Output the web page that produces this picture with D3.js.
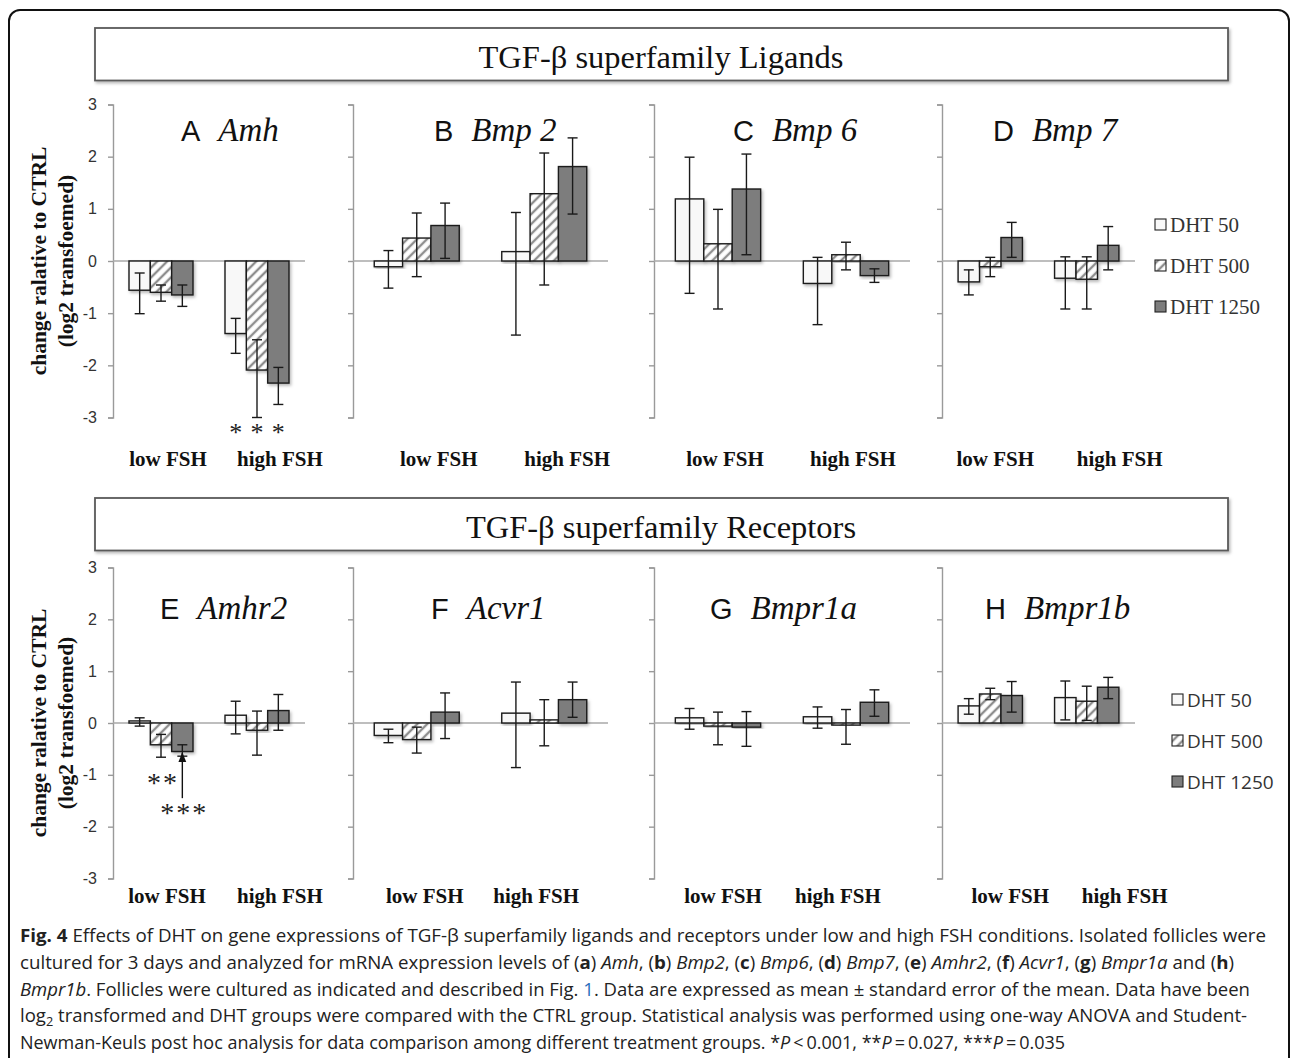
<!DOCTYPE html>
<html lang="en">
<head>
<meta charset="UTF-8"/>
<title>Fig. 4 - DHT effects on TGF-beta superfamily genes</title>
<script src="https://cdn.jsdelivr.net/npm/d3@7"></script>
<style>
    html, body { margin: 0; background: #fff; }
    svg { display: block; }
</style>
</head>
<body>
<div id="chart"></div>
<script>
    // ---- data ----
    const panelLetters = ["A", "B", "C", "D", "E", "F", "G", "H"];
    const geneNames = ["Amh", "Bmp 2", "Bmp 6", "Bmp 7", "Amhr2", "Acvr1", "Bmpr1a", "Bmpr1b"];
    const groups = ["low FSH", "high FSH"];
    const series = ["DHT 50", "DHT 500", "DHT 1250"];
    const yTicks = [3, 2, 1, 0, -1, -2, -3];
    const rowTitles = ["TGF-\u03b2 superfamily Ligands", "TGF-\u03b2 superfamily Receptors"];

    // means per panel: [low FSH [50, 500, 1250], high FSH [50, 500, 1250]]
    const means = [
        [[-0.56, -0.60, -0.65], [-1.39, -2.09, -2.34]],
        [[-0.11, 0.44, 0.68], [0.18, 1.29, 1.81]],
        [[1.19, 0.33, 1.38], [-0.43, 0.12, -0.28]],
        [[-0.40, -0.11, 0.45], [-0.33, -0.35, 0.30]],
        [[0.04, -0.42, -0.55], [0.15, -0.14, 0.24]],
        [[-0.24, -0.32, 0.21], [0.19, 0.06, 0.45]],
        [[0.10, -0.06, -0.08], [0.12, -0.04, 0.40]],
        [[0.33, 0.56, 0.53], [0.49, 0.42, 0.69]]
    ];
    const errPlus = [
        [[0.33, 0.14, 0.19], [0.29, 0.58, 0.30]],
        [[0.31, 0.48, 0.43], [0.75, 0.78, 0.55]],
        [[0.80, 0.66, 0.67], [0.50, 0.24, 0.13]],
        [[0.23, 0.18, 0.29], [0.41, 0.43, 0.36]],
        [[0.06, 0.20, 0.13], [0.27, 0.37, 0.31]],
        [[0.12, 0.24, 0.37], [0.60, 0.39, 0.34]],
        [[0.18, 0.27, 0.30], [0.19, 0.30, 0.24]],
        [[0.14, 0.11, 0.27], [0.32, 0.29, 0.19]]
    ];
    const errMinus = [
        [[0.45, 0.17, 0.22], [0.38, 0.91, 0.41]],
        [[0.41, 0.74, 0.63], [1.60, 1.75, 0.91]],
        [[1.81, 1.25, 1.26], [0.79, 0.29, 0.13]],
        [[0.25, 0.19, 0.38], [0.59, 0.57, 0.47]],
        [[0.10, 0.24, 0.09], [0.36, 0.48, 0.38]],
        [[0.14, 0.26, 0.51], [1.05, 0.50, 0.34]],
        [[0.22, 0.36, 0.37], [0.22, 0.37, 0.27]],
        [[0.16, 0.11, 0.32], [0.43, 0.37, 0.22]]
    ];

    // ---- layout ----
    const width = 1290, height = 1058;
    const cols = [[113, 305], [353, 608], [654, 910], [942, 1135]];
    const rows = [
        {top: 104.5, bottom: 417.5, title: 141, cat: 466, box: 28},
        {top: 567.5, bottom: 878.5, title: 619, cat: 903, box: 498}
    ];
    const titleShift = [68, 81, 79, 51, 47, 78, 56, 43];
    const catShift = [[7, 23], [22, 23], [7, 7], [5, 33], [6, 23], [8, -8], [5, -8], [20, 38]];
    const fills = {"DHT 50": "#f8f8f8", "DHT 500": "url(#hatch)", "DHT 1250": "#7d7d7d"};
    const serif = "'Liberation Serif', 'Times New Roman', serif";
    const sans = "'Liberation Sans', Arial, sans-serif";

    const svg = d3.select("#chart").append("svg")
        .attr("width", width)
        .attr("height", height);

    const defs = svg.append("defs");
    const hatch = defs.append("pattern")
        .attr("id", "hatch")
        .attr("patternUnits", "userSpaceOnUse")
        .attr("width", 7).attr("height", 7)
        .attr("patternTransform", "rotate(45)");
    hatch.append("rect").attr("width", 7).attr("height", 7).attr("fill", "#fff");
    hatch.append("line")
        .attr("x1", 2).attr("y1", 0).attr("x2", 2).attr("y2", 7)
        .attr("stroke", "#8e8e8e").attr("stroke-width", 2.4);

    const shadow = defs.append("filter").attr("id", "shadow")
        .attr("x", "-20%").attr("y", "-20%").attr("width", "150%").attr("height", "150%");
    shadow.append("feDropShadow")
        .attr("dx", 1.5).attr("dy", 2).attr("stdDeviation", 1.5)
        .attr("flood-color", "#000").attr("flood-opacity", 0.28);

    defs.append("marker").attr("id", "arrow")
        .attr("viewBox", "0 0 10 10").attr("refX", 9).attr("refY", 5)
        .attr("markerWidth", 7).attr("markerHeight", 7).attr("orient", "auto")
        .append("path").attr("d", "M0,1 L10,5 L0,9 Z").attr("fill", "#111");

    // outer frame
    svg.append("rect")
        .attr("x", 9).attr("y", 10)
        .attr("width", 1280).attr("height", 1120)
        .attr("rx", 11)
        .attr("fill", "none").attr("stroke", "#111").attr("stroke-width", 2);

    // row title boxes
    rows.forEach((r, i) => {
        svg.append("rect")
            .attr("x", 95).attr("y", r.box)
            .attr("width", 1133).attr("height", 52.5)
            .attr("fill", "#fff").attr("stroke", "#5a5a5a").attr("stroke-width", 1.8)
            .attr("filter", "url(#shadow)");
        svg.append("text")
            .attr("x", 661).attr("y", r.box + 40)
            .attr("text-anchor", "middle")
            .attr("font-family", serif)
            .attr("font-size", 32.5).attr("fill", "#111")
            .text(rowTitles[i]);
    });

    // y axis titles
    rows.forEach(r => {
        const cy = (r.top + r.bottom) / 2;
        const g = svg.append("g")
            .attr("font-family", serif)
            .attr("font-weight", "bold").attr("font-size", 21.5).attr("fill", "#111")
            .attr("text-anchor", "middle");
        g.append("text")
            .attr("transform", `translate(46,${cy}) rotate(-90)`)
            .text("change ralative to CTRL");
        g.append("text")
            .attr("transform", `translate(73,${cy}) rotate(-90)`)
            .text("(log2 transfoemed)");
    });

    // panels
    panelLetters.forEach((letter, p) => {
        const row = rows[Math.floor(p / 4)];
        const col = cols[p % 4];
        const g = svg.append("g");

        const y = d3.scaleLinear().domain([-3, 3]).range([row.bottom, row.top]);
        const x0 = d3.scaleBand().domain(groups).range(col)
            .paddingInner(1 / 3).paddingOuter(1 / 6);
        const x1 = d3.scaleBand().domain(series).range([0, x0.bandwidth()]);

        const axis = d3.axisLeft(y)
            .tickValues(yTicks)
            .tickSize(5)
            .tickPadding(11)
            .tickFormat(p % 4 === 0 ? (d => String(d)) : () => "");
        const ax = g.append("g")
            .attr("transform", `translate(${col[0]},0)`)
            .call(axis);
        ax.select(".domain").attr("stroke", "#9a9a9a").attr("stroke-width", 1.4);
        ax.selectAll(".tick line").attr("stroke", "#9a9a9a").attr("stroke-width", 1.4);
        ax.selectAll(".tick text")
            .attr("font-family", sans)
            .attr("font-size", 16).attr("fill", "#333");

        // zero line
        g.append("line")
            .attr("x1", col[0]).attr("x2", col[1])
            .attr("y1", y(0)).attr("y2", y(0))
            .attr("stroke", "#a8a8a8").attr("stroke-width", 1.6);

        const bars = [];
        groups.forEach((grp, gi) => {
            series.forEach((s, si) => {
                bars.push({
                    grp, s,
                    v: means[p][gi][si],
                    hi: means[p][gi][si] + errPlus[p][gi][si],
                    lo: means[p][gi][si] - errMinus[p][gi][si]
                });
            });
        });
        const cx = d => x0(d.grp) + x1(d.s) + x1.bandwidth() / 2;

        g.append("g").selectAll("rect")
            .data(bars)
            .join("rect")
            .attr("x", d => x0(d.grp) + x1(d.s))
            .attr("width", x1.bandwidth())
            .attr("y", d => y(Math.max(0, d.v)))
            .attr("height", d => Math.abs(y(d.v) - y(0)))
            .attr("fill", d => fills[d.s])
            .attr("stroke", "#1a1a1a").attr("stroke-width", 1.4)
            .attr("filter", "url(#shadow)");

        const eb = g.append("g").attr("stroke", "#1a1a1a").attr("stroke-width", 1.4);
        eb.selectAll("line.v").data(bars).join("line").attr("class", "v")
            .attr("x1", cx).attr("x2", cx)
            .attr("y1", d => y(d.hi)).attr("y2", d => y(d.lo));
        eb.selectAll("line.t").data(bars).join("line").attr("class", "t")
            .attr("x1", d => cx(d) - 5).attr("x2", d => cx(d) + 5)
            .attr("y1", d => y(d.hi)).attr("y2", d => y(d.hi));
        eb.selectAll("line.b").data(bars).join("line").attr("class", "b")
            .attr("x1", d => cx(d) - 5).attr("x2", d => cx(d) + 5)
            .attr("y1", d => y(d.lo)).attr("y2", d => y(d.lo));

        // panel title
        const t = g.append("text")
            .attr("x", col[0] + titleShift[p]).attr("y", row.title)
            .attr("fill", "#111");
        t.append("tspan")
            .attr("font-family", sans)
            .attr("font-size", 29)
            .text(letter);
        t.append("tspan")
            .attr("dx", 18)
            .attr("font-family", serif)
            .attr("font-style", "italic").attr("font-size", 33)
            .text(geneNames[p]);

        // category labels
        g.selectAll("text.cat").data(groups).join("text").attr("class", "cat")
            .attr("x", (d, i) => x0(d) + x0.bandwidth() / 2 + catShift[p][i])
            .attr("y", row.cat)
            .attr("text-anchor", "middle")
            .attr("font-family", serif)
            .attr("font-weight", "bold").attr("font-size", 21).attr("fill", "#111")
            .text(d => d);

        // significance marks
        if (p === 0) {
            g.selectAll("text.star").data(bars.filter(d => d.grp === "high FSH"))
                .join("text").attr("class", "star")
                .attr("x", cx).attr("y", y(-3) + 23)
                .attr("text-anchor", "middle")
                .attr("font-family", serif)
                .attr("font-size", 26).attr("fill", "#222")
                .text("*");
        }
        if (p === 4) {
            const b2 = bars[1], b3 = bars[2];
            const star = g.append("g")
                .attr("font-family", serif)
                .attr("font-size", 28).attr("fill", "#222")
                .attr("text-anchor", "middle").attr("letter-spacing", 2);
            star.append("text").attr("x", cx(b2) + 2).attr("y", y(-1.05) + 15).text("**");
            star.append("text").attr("x", cx(b3) + 2).attr("y", y(-1.62) + 15).text("***");
            g.append("line")
                .attr("x1", cx(b3)).attr("x2", cx(b3))
                .attr("y1", y(-1.45)).attr("y2", y(b3.lo) - 3)
                .attr("stroke", "#111").attr("stroke-width", 1.4)
                .attr("marker-end", "url(#arrow)");
        }

        // legends
        if (p % 4 === 3) {
            const top = p === 3;
            const lx = top ? 1155 : 1172;
            const ly = top ? [225, 266, 307] : [700, 741, 782];
            const lg = g.append("g");
            lg.selectAll("rect").data(series).join("rect")
                .attr("x", lx).attr("y", (d, i) => ly[i] - 6)
                .attr("width", 11).attr("height", 11)
                .attr("fill", d => fills[d])
                .attr("stroke", "#222").attr("stroke-width", 1.1);
            lg.selectAll("text").data(series).join("text")
                .attr("x", lx + 15).attr("y", (d, i) => ly[i] + 7)
                .attr("font-family", top ? serif : "'Open Sans', 'Liberation Sans', sans-serif")
                .attr("font-size", top ? 21 : 19)
                .attr("fill", "#333")
                .text(d => d);
        }
    });

    // ---- caption ----
    const captionLines = [
        [["Fig. 4", "b"], [" Effects of DHT on gene expressions of TGF-\u03b2 superfamily ligands and receptors under low and high FSH conditions. Isolated follicles were", ""]],
        [["cultured for 3 days and analyzed for mRNA expression levels of (", ""], ["a", "b"], [") ", ""], ["Amh", "i"], [", (", ""], ["b", "b"], [") ", ""], ["Bmp2", "i"], [", (", ""], ["c", "b"], [") ", ""], ["Bmp6", "i"], [", (", ""], ["d", "b"], [") ", ""], ["Bmp7", "i"], [", (", ""], ["e", "b"], [") ", ""], ["Amhr2", "i"], [", (", ""], ["f", "b"], [") ", ""], ["Acvr1", "i"], [", (", ""], ["g", "b"], [") ", ""], ["Bmpr1a", "i"], [" and (", ""], ["h", "b"], [")", ""]],
        [["Bmpr1b", "i"], [". Follicles were cultured as indicated and described in Fig. ", ""], ["1", "link"], [". Data are expressed as mean \u00b1 standard error of the mean. Data have been", ""]],
        [["log", ""], ["2", "sub"], [" transformed and DHT groups were compared with the CTRL group. Statistical analysis was performed using one-way ANOVA and Student-", ""]],
        [["Newman-Keuls post hoc analysis for data comparison among different treatment groups. *", ""], ["P", "i"], ["\u2009<\u20090.001, **", ""], ["P", "i"], ["\u2009=\u20090.027, ***", ""], ["P", "i"], ["\u2009=\u20090.035", ""]]
    ];
    const captionWidths = [1246, 1214, 1230, 1227, 1045];
    const captionY = [942, 969, 996, 1022, 1049];

    captionLines.forEach((segs, li) => {
        const t = svg.append("text")
            .attr("x", 20).attr("y", captionY[li])
            .attr("font-family", "'Liberation Sans Narrow', 'Open Sans', 'Liberation Sans', sans-serif")
            .attr("font-size", 17.5).attr("fill", "#222")
            .attr("textLength", captionWidths[li])
            .attr("lengthAdjust", "spacingAndGlyphs");
        segs.forEach(([txt, st]) => {
            const ts = t.append("tspan").text(txt);
            if (st === "b") ts.attr("font-weight", "bold");
            if (st === "i") ts.attr("font-style", "italic");
            if (st === "link") ts.attr("fill", "#2a6ebb");
            if (st === "sub") ts.attr("font-size", 12).attr("dy", 4);
            if (li === 3 && txt.startsWith(" transformed")) ts.attr("dy", -4);
        });
    });
</script>
</body>
</html>
